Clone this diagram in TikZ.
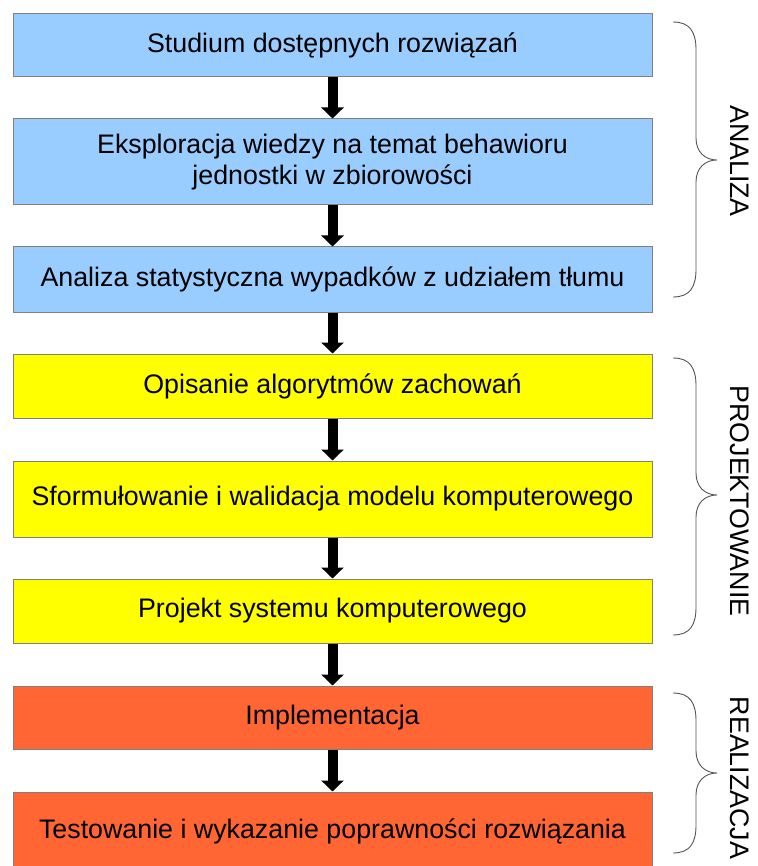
\documentclass[tikz,border=0pt]{standalone}
\usepackage{fontspec}
\setmainfont{Liberation Sans}
\usetikzlibrary{arrows.meta}
\definecolor{cblue}{HTML}{99CCFF}
\definecolor{cyellow}{HTML}{FFFF00}
\definecolor{corange}{HTML}{FF6633}
\definecolor{cborder}{HTML}{808080}
\definecolor{cbrace}{HTML}{555555}
\newcommand\mybrace[3]{%
\draw[bracestyle] (673,-#1) .. controls (690,-#1) and (696,-#1-10) .. (696,-#1-28) -- (696,-#2+22) .. controls (696,-#2+8) and (705,-#2) .. (717,-#2) .. controls (705,-#2) and (696,-#2-8) .. (696,-#2-22) -- (696,-#3+28) .. controls (696,-#3+10) and (690,-#3) .. (673,-#3);}
\begin{document}
\begin{tikzpicture}[x=1pt,y=1pt,
  box/.style={draw=cborder, line width=1pt, minimum width=639pt, inner sep=0pt, align=center,
    font=\fontsize{26.8}{31}\selectfont},
  flow/.style={line width=10pt, -{Triangle[width=22pt,length=11pt]}},
  bracestyle/.style={draw=cbrace, line width=0.9pt},
  phase/.style={rotate=-90, font=\fontsize{26.8}{31}\selectfont, inner sep=0pt}]
\clip (0,0) rectangle (757,-866);
\fill[white] (0,0) rectangle (757,-866);
\node[box, fill=cblue, minimum height=63pt] (b1) at (332.5,-45.5) {Studium dostępnych rozwiązań};
\node[box, fill=cblue, minimum height=86pt] (b2) at (332.5,-162) {Eksploracja wiedzy na temat behawioru\\jednostki w zbiorowości};
\node[box, fill=cblue, minimum height=65pt] (b3) at (332.5,-279.5) {Analiza statystyczna wypadków z udziałem tłumu};
\node[box, fill=cyellow, minimum height=64pt] (b4) at (332.5,-386) {Opisanie algorytmów zachowań};
\node[box, fill=cyellow, minimum height=76pt] (b5) at (332.5,-499) {Sformułowanie i walidacja modelu komputerowego};
\node[box, fill=cyellow, minimum height=64pt] (b6) at (332.5,-611) {Projekt systemu komputerowego};
\node[box, fill=corange, minimum height=63pt] (b7) at (332.5,-717.5) {Implementacja};
\node[box, fill=corange, minimum height=78pt] (b8) at (332.5,-831) {Testowanie i wykazanie poprawności rozwiązania};
\draw[flow] (b1) -- (b2);
\draw[flow] (b2) -- (b3);
\draw[flow] (b3) -- (b4);
\draw[flow] (b4) -- (b5);
\draw[flow] (b5) -- (b6);
\draw[flow] (b6) -- (b7);
\draw[flow] (b7) -- (b8);
\mybrace{22}{160}{297}
\mybrace{358}{495}{635}
\mybrace{693}{773}{853}
\node[phase] (p1) at (740,-161) {ANALIZA};
\node[phase] (p2) at (740,-501) {PROJEKTOWANIE};
\node[phase] (p3) at (740,-778) {REALIZACJA};
\end{tikzpicture}
\end{document}
